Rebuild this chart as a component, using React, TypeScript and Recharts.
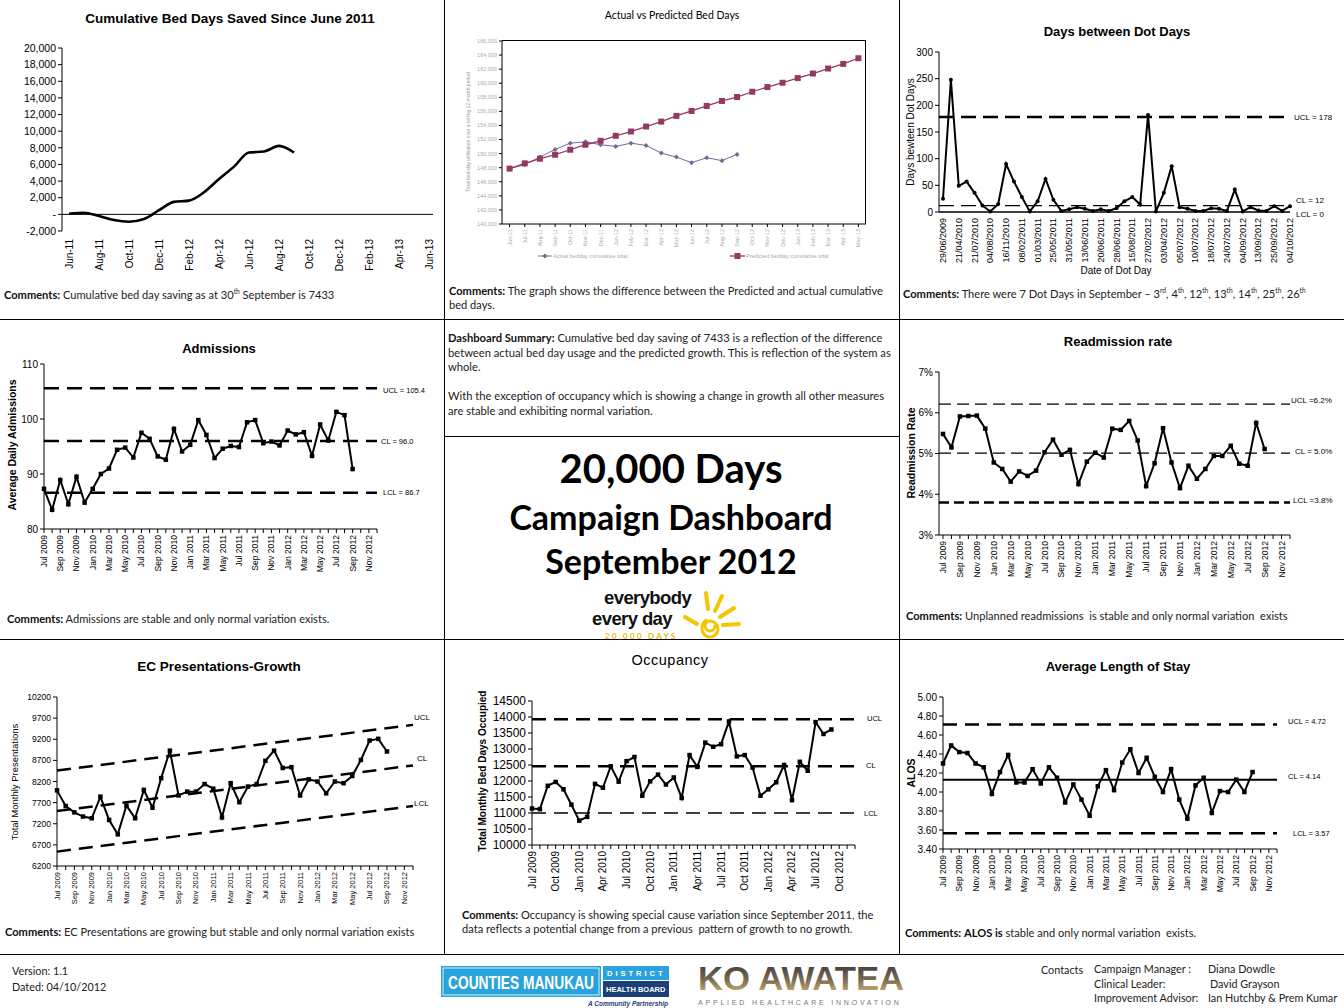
import React from "react";
import { LineChart, Line, XAxis, YAxis, ReferenceLine } from "recharts";

const AX = "'Liberation Sans', Arial, sans-serif";
const CAL = "Lato, 'Open Sans', sans-serif";

// ---- Cumulative bed days saved since June 2011
const CUM_MONTHS = [
  "Jun-11", "Jul-11", "Aug-11", "Sep-11", "Oct-11", "Nov-11", "Dec-11", "Jan-12", "Feb-12",
  "Mar-12", "Apr-12", "May-12", "Jun-12", "Jul-12", "Aug-12", "Sep-12", "Oct-12", "Nov-12",
  "Dec-12", "Jan-13", "Feb-13", "Mar-13", "Apr-13", "May-13", "Jun-13",
];
const CUM_SAVED = [80, 200, -200, -680, -880, -560, 500, 1500, 1650, 2650, 4250, 5740, 7430, 7550, 8230, 7433];
const CUM_TICKS = [-2000, 0, 2000, 4000, 6000, 8000, 10000, 12000, 14000, 16000, 18000, 20000];

// ---- Actual vs predicted bed days
const AVP_MONTHS = [
  "Jun-11", "Jul-11", "Aug-11", "Sep-11", "Oct-11", "Nov-11", "Dec-11", "Jan-12", "Feb-12",
  "Mar-12", "Apr-12", "May-12", "Jun-12", "Jul-12", "Aug-12", "Sep-12", "Oct-12", "Nov-12",
  "Dec-12", "Jan-13", "Feb-13", "Mar-13", "Apr-13", "May-13",
];
const AVP_ACTUAL = [
  147870, 148430, 149510, 150600, 151490, 151680, 151260, 151020, 151490, 151160, 150080,
  149510, 148710, 149420, 149000, 149890,
];
const AVP_PREDICTED = [
  147870, 148620, 149280, 149840, 150550, 151260, 151820, 152530, 153140, 153850, 154550,
  155360, 156060, 156770, 157480, 158040, 158790, 159450, 160070, 160730, 161380, 162090,
  162750, 163550,
];
const AVP_TICKS = [
  140000, 142000, 144000, 146000, 148000, 150000, 152000, 154000, 156000, 158000, 160000,
  162000, 164000, 166000,
];
const AVP_ACTUAL_NAME = "Actual bedday cumulative total";
const AVP_PRED_NAME = "Predicted bedday cumulative total";

// ---- Days between dot days
const DOT_DATES = [
  "29/06/2009", "21/04/2010", "21/07/2010", "04/08/2010", "16/11/2010", "08/02/2011",
  "01/03/2011", "25/05/2011", "31/05/2011", "13/06/2011", "20/06/2011", "28/06/2011",
  "15/08/2011", "27/02/2012", "03/04/2012", "05/07/2012", "10/07/2012", "18/07/2012",
  "24/07/2012", "04/09/2012", "13/09/2012", "25/09/2012", "04/10/2012",
];
const DOT_GAPS = [
  25, 248, 49, 57, 36, 12, 1, 15, 90, 57, 28, 1, 20, 62, 23, 2, 5, 9, 6, 2, 5, 2, 7, 20, 28,
  14, 182, 1, 36, 86, 9, 6, 2, 2, 7, 6, 2, 42, 1, 9, 3, 2, 11, 2, 11,
];
const DOT_TICKS = [0, 50, 100, 150, 200, 250, 300];

// ---- Monthly SPC charts (Jul 2009 - Dec 2012)
const MONTHS = [
  "Jul 2009", "Aug 2009", "Sep 2009", "Oct 2009", "Nov 2009", "Dec 2009",
  "Jan 2010", "Feb 2010", "Mar 2010", "Apr 2010", "May 2010", "Jun 2010",
  "Jul 2010", "Aug 2010", "Sep 2010", "Oct 2010", "Nov 2010", "Dec 2010",
  "Jan 2011", "Feb 2011", "Mar 2011", "Apr 2011", "May 2011", "Jun 2011",
  "Jul 2011", "Aug 2011", "Sep 2011", "Oct 2011", "Nov 2011", "Dec 2011",
  "Jan 2012", "Feb 2012", "Mar 2012", "Apr 2012", "May 2012", "Jun 2012",
  "Jul 2012", "Aug 2012", "Sep 2012", "Oct 2012", "Nov 2012", "Dec 2012",
];
const ADMISSIONS = [
  87.3, 83.5, 88.9, 84.5, 89.5, 84.8, 87.3, 90.0, 91.0, 94.4, 94.8, 93.0, 97.5, 96.4, 93.2,
  92.6, 98.2, 94.1, 95.3, 99.8, 97.1, 92.9, 94.6, 95.1, 94.9, 99.4, 99.8, 95.6, 95.9, 95.2,
  97.9, 97.2, 97.6, 93.3, 99.0, 96.1, 101.3, 100.7, 90.9,
];
const READMIT = [
  5.48, 5.15, 5.91, 5.92, 5.93, 5.61, 4.78, 4.62, 4.31, 4.56, 4.45, 4.58, 5.03, 5.34, 4.97,
  5.09, 4.25, 4.8, 5.02, 4.9, 5.61, 5.58, 5.8, 5.32, 4.2, 4.76, 5.62, 4.78, 4.15, 4.7, 4.38,
  4.62, 4.94, 4.94, 5.19, 4.75, 4.7, 5.75, 5.11,
];
const EC_PRES = [
  7990, 7620, 7470, 7370, 7330, 7840, 7290, 6950, 7630, 7330, 8000, 7580, 8280, 8930, 7870,
  7960, 7960, 8140, 8030, 7350, 8160, 7710, 8080, 8140, 8690, 8930, 8520, 8540, 7870, 8250,
  8200, 7920, 8200, 8160, 8330, 8710, 9170, 9210, 8910,
];
const OCCUPANCY = [
  11140, 11120, 11850, 11970, 11740, 11260, 10760, 10880, 11910, 11790, 12460, 11980, 12620,
  12750, 11540, 11990, 12200, 11890, 12110, 11470, 12810, 12440, 13200, 13070, 13150, 13860,
  12770, 12810, 12420, 11540, 11740, 11960, 12500, 11400, 12600, 12320, 13840, 13470, 13610,
];
const ALOS = [
  4.3, 4.49, 4.42, 4.41, 4.3, 4.26, 3.98, 4.21, 4.39, 4.1, 4.1, 4.24, 4.09, 4.26, 4.15, 3.89,
  4.08, 3.92, 3.75, 4.06, 4.23, 4.02, 4.31, 4.45, 4.2, 4.36, 4.16, 4.0, 4.24, 3.92, 3.72, 4.07,
  4.15, 3.78, 4.01, 4.0, 4.13, 4.0, 4.21,
];

const ADM_TICKS = [80, 90, 100, 110];
const READ_TICKS = [3, 4, 5, 6, 7];
const EC_TICKS = [6200, 6700, 7200, 7700, 8200, 8700, 9200, 9700, 10200];
const OCC_TICKS = [10000, 10500, 11000, 11500, 12000, 12500, 13000, 13500, 14000, 14500];
const ALOS_TICKS = [3.4, 3.6, 3.8, 4.0, 4.2, 4.4, 4.6, 4.8, 5.0];

type Lim = { y?: number; seg?: [number, number]; text: string; w: number; dash?: string; dx: number; dy: number };

const ADM_LIMITS: Lim[] = [
  { y: 105.6, text: "UCL = 105.4", w: 2.5, dash: "15 8", dx: 6, dy: 2 },
  { y: 96.0, text: "CL = 96.0", w: 2.5, dash: "15 8", dx: 4, dy: 0 },
  { y: 86.6, text: "LCL = 86.7", w: 2.5, dash: "15 8", dx: 6, dy: 0 },
];
const READ_LIMITS: Lim[] = [
  { y: 6.21, text: "UCL =6.2%", w: 1.2, dash: "12 6", dx: 1, dy: -4 },
  { y: 5.01, text: "CL = 5.0%", w: 1.2, dash: "12 6", dx: 5, dy: -2 },
  { y: 3.8, text: "LCL =3.8%", w: 2.5, dash: "10 5", dx: 3, dy: -2 },
];
const DOT_LIMITS: Lim[] = [
  { y: 178, text: "UCL = 178", w: 2.5, dash: "15 7", dx: 4, dy: 0 },
  { y: 12, text: "CL = 12", w: 1.2, dash: "15 7", dx: 6, dy: -5 },
  { y: 0, text: "LCL = 0", w: 1, dx: 6, dy: 2 },
];
const EC_LIMITS: Lim[] = [
  { seg: [8460, 9540], text: "UCL", w: 2.5, dash: "14 8", dx: 1, dy: -7 },
  { seg: [7500, 8580], text: "CL", w: 2.5, dash: "14 8", dx: 4, dy: -7 },
  { seg: [6540, 7620], text: "LCL", w: 2.5, dash: "14 8", dx: 1, dy: -3 },
];
const OCC_LIMITS: Lim[] = [
  { y: 13930, text: "UCL", w: 2.5, dash: "14 8", dx: 12, dy: -1 },
  { y: 12460, text: "CL", w: 2.5, dash: "14 8", dx: 11, dy: -1 },
  { y: 11000, text: "LCL", w: 1.5, dash: "14 8", dx: 9, dy: 0 },
];
const ALOS_LIMITS: Lim[] = [
  { y: 4.71, text: "UCL = 4.72", w: 2.5, dash: "14 8", dx: 11, dy: -3 },
  { y: 4.13, text: "CL = 4.14", w: 2, dx: 11, dy: -3 },
  { y: 3.565, text: "LCL = 3.57", w: 2.5, dash: "14 8", dx: 16, dy: 0 },
];

const monthRows = (vals: number[]) => MONTHS.map((m, i) => ({ m, v: i < vals.length ? vals[i] : null }));

function rotTick(o: { every?: number; size: number; fill?: string; fmt?: (v: any, i: number) => string; off?: number }) {
  return (p: any) => {
    const i = p.index ?? 0;
    const txt = o.fmt ? o.fmt(p.payload?.value, i) : String(p.payload?.value ?? "");
    if (i % (o.every ?? 1) !== 0 || !txt) return <g key={`t${i}`} />;
    return (
      <text
        key={`t${i}`}
        transform={`translate(${p.x},${p.y + (o.off ?? 0)}) rotate(-90)`}
        textAnchor="end"
        dominantBaseline="central"
        fontSize={o.size}
        fill={o.fill ?? "#000"}
        fontFamily={AX}
      >
        {txt}
      </text>
    );
  };
}

function limitLabel(text: string, dx: number, dy: number, size: number) {
  return (p: any) => {
    const vb = p.viewBox ?? p;
    return (
      <text x={(vb.x ?? 0) + (vb.width ?? 0) + dx} y={(vb.y ?? 0) + dy} fontSize={size} fontFamily={AX} fill="#000" dominantBaseline="central">
        {text}
      </text>
    );
  };
}

function squareDot(s: number, fill = "#000") {
  return (d: any) => {
    if (d == null || d.cx == null || d.cy == null || d.value == null) return <g key={`d${d?.index}`} />;
    return <rect key={`d${d.index}`} x={d.cx - s / 2} y={d.cy - s / 2} width={s} height={s} fill={fill} />;
  };
}
function diamondDot(s: number, fill: string) {
  return (d: any) => {
    if (d == null || d.cx == null || d.cy == null || d.value == null) return <g key={`d${d?.index}`} />;
    const h = s / 2;
    return <polygon key={`d${d.index}`} points={`${d.cx},${d.cy - h} ${d.cx + h},${d.cy} ${d.cx},${d.cy + h} ${d.cx - h},${d.cy}`} fill={fill} />;
  };
}
function roundDot(r: number) {
  return (d: any) => {
    if (d == null || d.cx == null || d.cy == null || d.value == null) return <g key={`d${d?.index}`} />;
    return <circle key={`d${d.index}`} cx={d.cx} cy={d.cy} r={r} fill="#000" />;
  };
}

type SpcProps = {
  left: number; top: number; W: number; H: number;
  x0: number; y0: number; x1: number; y1: number; xh: number;
  rows: any[]; domain: [number, number]; ticks: number[]; fmt?: (v: number) => string;
  yFont: number; xFont: number; every: number; xFmt?: (v: any, i: number) => string;
  padL?: number; padR?: number; limits: Lim[]; limFont: number;
  dot: (d: any) => React.ReactElement; lineW?: number; xTickLine?: boolean; off?: number;
};

function Spc(p: SpcProps) {
  const first = p.rows[0].m;
  const last = p.rows[p.rows.length - 1].m;
  return (
    <div style={{ position: "absolute", left: p.left, top: p.top }}>
      <LineChart width={p.W} height={p.H} data={p.rows} margin={{ top: p.y0, right: p.W - p.x1, bottom: p.H - p.y1 - p.xh, left: 0 }}>
        <XAxis
          dataKey="m"
          interval={0}
          height={p.xh}
          stroke="#000"
          tickSize={4}
          tickLine={p.xTickLine ?? true}
          padding={{ left: p.padL ?? 0, right: p.padR ?? 0 }}
          tick={rotTick({ every: p.every, size: p.xFont, fmt: p.xFmt, off: p.off ?? 0 })}
        />
        <YAxis
          width={p.x0}
          domain={p.domain}
          ticks={p.ticks}
          interval={0}
          stroke="#000"
          tickSize={4}
          tickFormatter={p.fmt}
          tick={{ fontSize: p.yFont, fill: "#000", fontFamily: AX }}
        />
        {p.limits.map((l, i) =>
          l.seg ? (
            <ReferenceLine
              key={i}
              segment={[{ x: first, y: l.seg[0] }, { x: last, y: l.seg[1] }]}
              stroke="#000"
              strokeWidth={l.w}
              strokeDasharray={l.dash}
              label={limitLabel(l.text, l.dx, l.dy, p.limFont)}
            />
          ) : (
            <ReferenceLine
              key={i}
              y={l.y}
              stroke="#000"
              strokeWidth={l.w}
              strokeDasharray={l.dash}
              label={limitLabel(l.text, l.dx, l.dy, p.limFont)}
            />
          )
        )}
        <Line dataKey="v" type="linear" stroke="#000" strokeWidth={p.lineW ?? 2} dot={p.dot} isAnimationActive={false} />
      </LineChart>
    </div>
  );
}

function Title(p: { cx: number; cy: number; size: number; bold?: boolean; family?: string; spacing?: number; children: React.ReactNode }) {
  return (
    <div
      style={{
        position: "absolute", left: p.cx - 250, top: p.cy - p.size * 0.6, width: 500, textAlign: "center",
        fontSize: p.size, lineHeight: `${p.size * 1.2}px`, fontWeight: p.bold === false ? 400 : 700,
        fontFamily: p.family ?? AX, letterSpacing: p.spacing ?? 0, whiteSpace: "nowrap", color: "#000",
      }}
    >
      {p.children}
    </div>
  );
}

function VText(p: { cx: number; cy: number; size: number; bold?: boolean; color?: string; children: React.ReactNode }) {
  return (
    <div
      style={{
        position: "absolute", left: p.cx, top: p.cy, transform: "translate(-50%,-50%) rotate(-90deg)",
        fontSize: p.size, fontWeight: p.bold ? 700 : 400, fontFamily: AX, whiteSpace: "nowrap", lineHeight: 1,
        color: p.color ?? "#000",
      }}
    >
      {p.children}
    </div>
  );
}

function Comment(p: { x: number; y: number; w: number; children: React.ReactNode }) {
  return (
    <div style={{ position: "absolute", left: p.x, top: p.y, width: p.w, fontSize: 11.1, lineHeight: "14px", fontFamily: CAL, color: "#222", whiteSpace: "nowrap" }}>
      <b style={{ color: "#111" }}>Comments:</b> {p.children}
    </div>
  );
}

const Sup = ({ children }: { children: React.ReactNode }) => (
  <sup style={{ fontSize: "0.6em", lineHeight: 0, verticalAlign: "super" }}>{children}</sup>
);

function Rule(p: { x: number; y: number; w: number; h: number }) {
  return <div style={{ position: "absolute", left: p.x, top: p.y, width: p.w, height: p.h, background: "#000" }} />;
}

function CumChart() {
  const rows = CUM_MONTHS.map((m, i) => ({ m, v: i < CUM_SAVED.length ? CUM_SAVED[i] : null }));
  return (
    <div style={{ position: "absolute", left: 0, top: 0 }}>
      <LineChart width={445} height={320} data={rows} margin={{ top: 48, right: 12, bottom: 49, left: 0 }}>
        <XAxis dataKey="m" interval={0} height={40} axisLine={false} tickLine={false} padding={{ left: 7, right: 4 }} tick={rotTick({ every: 2, size: 10 })} />
        <YAxis
          width={62}
          domain={[-2000, 20000]}
          ticks={CUM_TICKS}
          interval={0}
          stroke="#000"
          tickSize={4}
          tickFormatter={(v: number) => (v === 0 ? "-" : v.toLocaleString("en-US"))}
          tick={{ fontSize: 10.5, fill: "#000", fontFamily: AX }}
        />
        <ReferenceLine y={0} stroke="#000" strokeWidth={1} />
        <Line dataKey="v" type="monotone" stroke="#000" strokeWidth={2.6} dot={false} isAnimationActive={false} />
      </LineChart>
    </div>
  );
}

function AvpChart() {
  const rows = AVP_MONTHS.map((m, i) => ({
    m,
    a: i < AVP_ACTUAL.length ? AVP_ACTUAL[i] : null,
    p: AVP_PREDICTED[i],
  }));
  const gray = "#aaa";
  return (
    <div style={{ position: "absolute", left: 445, top: 0 }}>
      <LineChart width={455} height={320} data={rows} margin={{ top: 41, right: 34, bottom: 66, left: 0 }}>
        <XAxis dataKey="m" interval={0} height={30} stroke="#000" tickSize={3} padding={{ left: 7.6, right: 7.6 }} tick={rotTick({ size: 5.5, fill: gray })} />
        <YAxis
          width={57}
          domain={[140000, 166000]}
          ticks={AVP_TICKS}
          interval={0}
          stroke="#000"
          tickSize={3}
          tickFormatter={(v: number) => v.toLocaleString("en-US")}
          tick={{ fontSize: 5.5, fill: gray, fontFamily: AX }}
        />
        <Line dataKey="a" name={AVP_ACTUAL_NAME} type="linear" stroke="#6b6b96" strokeWidth={1} dot={diamondDot(5, "#6b6b96")} isAnimationActive={false} />
        <Line dataKey="p" name={AVP_PRED_NAME} type="linear" stroke="#953962" strokeWidth={1.3} dot={squareDot(6, "#953962")} isAnimationActive={false} />
      </LineChart>
      {/* plot-area frame */}
      <div style={{ position: "absolute", left: 57, top: 40, width: 364, height: 184, borderTop: "1.5px solid #000", borderRight: "1.5px solid #000", boxSizing: "border-box", pointerEvents: "none" }} />
      <svg width={455} height={16} style={{ position: "absolute", left: 0, top: 248 }}>
        <line x1={93} y1={8} x2={107} y2={8} stroke="#6b6b96" strokeWidth={1} />
        <polygon points="100,5.5 102.5,8 100,10.5 97.5,8" fill="#6b6b96" />
        <text x={108} y={8} fontSize={5.5} fill={gray} fontFamily={AX} dominantBaseline="central">{AVP_ACTUAL_NAME}</text>
        <line x1={285} y1={8} x2={300} y2={8} stroke="#953962" strokeWidth={1.3} />
        <rect x={289.5} y={5} width={6} height={6} fill="#953962" />
        <text x={301} y={8} fontSize={5.5} fill={gray} fontFamily={AX} dominantBaseline="central">{AVP_PRED_NAME}</text>
      </svg>
    </div>
  );
}

function EverybodyLogo() {
  return (
    <svg width={165} height={58} style={{ position: "absolute", left: 585, top: 586 }}>
      <text x={19} y={18} fontFamily={AX} fontWeight={700} fontSize={18.5} letterSpacing={-0.6} fill="#111">everybody</text>
      <text x={7} y={39} fontFamily={AX} fontWeight={700} fontSize={18.5} letterSpacing={-0.6} fill="#111">every day</text>
      <g stroke="#f6c500" strokeLinecap="round" fill="none">
        <path d="M130 40 a5 5 0 1 1 -5 -5 a8 8 0 1 1 -8 8 a11 11 0 0 1 4 -9" strokeWidth={3} />
        <line x1={123} y1={23} x2={121} y2={7} strokeWidth={4} />
        <line x1={130} y1={25} x2={137} y2={10} strokeWidth={4} />
        <line x1={135} y1={31} x2={149} y2={22} strokeWidth={4} />
        <line x1={138} y1={39} x2={154} y2={38} strokeWidth={4} />
        <line x1={112} y1={38} x2={100} y2={31} strokeWidth={4} />
      </g>
      <text x={20} y={53} fontFamily="Lato" fontWeight={700} fontSize={8} letterSpacing={2.3} fill="#f0b800">20,000 DAYS</text>
    </svg>
  );
}

function FooterLogos() {
  return (
    <>
      <svg width={232} height={44} style={{ position: "absolute", left: 440, top: 964 }}>
        <rect x={1} y={2} width={160} height={31} fill="#2aa3dc" />
        <rect x={3} y={4} width={156} height={27} fill="none" stroke="#fff" strokeWidth={0.8} />
        <g transform="translate(8,25) scale(0.765,1)">
          <text x={0} y={0} fontSize={18} fontWeight={700} fill="#fff" fontFamily={AX}>COUNTIES MANUKAU</text>
        </g>
        <rect x={163} y={2} width={66} height={14} fill="#2aa3dc" />
        <text x={167} y={12} fontSize={7.5} fontWeight={700} fill="#fff" fontFamily={AX} letterSpacing={3}>DISTRICT</text>
        <rect x={163} y={17} width={66} height={16} fill="#1c3f78" />
        <text x={166} y={28} fontSize={7.5} fontWeight={700} fill="#fff" fontFamily={AX}>HEALTH BOARD</text>
        <text x={228} y={42} fontSize={6.5} fontWeight={700} fontStyle="italic" fill="#1c3f78" fontFamily={AX} textAnchor="end">A Community Partnership</text>
      </svg>
      <svg width={210} height={50} style={{ position: "absolute", left: 696, top: 958 }}>
        <defs>
          <linearGradient id="kog" x1="0" y1="0" x2="0" y2="1">
            <stop offset="0" stopColor="#2e2e2e" />
            <stop offset="0.55" stopColor="#7a6c55" />
            <stop offset="1" stopColor="#e9c070" />
          </linearGradient>
        </defs>
        <g transform="translate(2,32) scale(1.02,1)">
          <text x={0} y={0} fontSize={34} fontWeight={700} fill="url(#kog)" fontFamily={AX}>KO AWATEA</text>
        </g>
        <text x={2} y={46.5} fontSize={7} fill="#777" fontFamily={AX} letterSpacing={2.8}>APPLIED HEALTHCARE INNOVATION</text>
      </svg>
    </>
  );
}

function Small(p: { x: number; cy: number; children: React.ReactNode }) {
  return (
    <div style={{ position: "absolute", left: p.x, top: p.cy - 7, fontSize: 10.8, lineHeight: "14px", fontFamily: CAL, color: "#222", whiteSpace: "nowrap" }}>
      {p.children}
    </div>
  );
}

export default function App() {
  const sqDot = squareDot(4.5);
  return (
    <div style={{ position: "relative", width: 1344, height: 1008, background: "#fff", overflow: "hidden", fontFamily: CAL }}>
      <style>{"body{margin:0}"}</style>

      {/* frame */}
      <Rule x={444} y={0} w={1} h={955} />
      <Rule x={899} y={0} w={1} h={955} />
      <Rule x={0} y={319} w={1344} h={1} />
      <Rule x={0} y={639} w={1344} h={1} />
      <Rule x={0} y={954} w={1344} h={1} />
      <Rule x={445} y={436} w={455} h={1} />

      {/* Cumulative bed days */}
      <Title cx={230} cy={19} size={13.5}>Cumulative Bed Days Saved Since June 2011</Title>
      <CumChart />
      <Comment x={4} y={288} w={436}>
        Cumulative bed day saving as at 30<Sup>th</Sup> September is 7433
      </Comment>

      {/* Actual vs predicted */}
      <Title cx={672} cy={15} size={10.5} bold={false} family={CAL}>Actual vs Predicted Bed Days</Title>
      <AvpChart />
      <VText cx={468} cy={132} size={5} color="#999">Total bed day utilisation over a rolling 12 month period</VText>
      <Comment x={449} y={284} w={448}>
        The graph shows the difference between the Predicted and actual cumulative
        <br />
        bed days.
      </Comment>

      {/* Dot days */}
      <Title cx={1117} cy={32} size={13}>Days between Dot Days</Title>
      <Spc
        left={900} top={0} W={444} H={320} x0={39} y0={52} x1={390} y1={212} xh={50}
        rows={DOT_GAPS.map((v, i) => ({ m: i, v }))}
        domain={[0, 300]} ticks={DOT_TICKS} yFont={10} xFont={9} every={2}
        xFmt={(v: number) => (v % 2 === 0 ? DOT_DATES[v / 2] : "")}
        padL={4} limits={DOT_LIMITS} limFont={8} dot={roundDot(2)} xTickLine={false}
      />
      <VText cx={911} cy={132} size={10}>Days bewteen Dot Days</VText>
      <Title cx={1116} cy={271} size={10} bold={false}>Date of Dot Day</Title>
      <Comment x={903} y={287} w={440}>
        There were 7 Dot Days in September – 3<Sup>rd</Sup>, 4<Sup>th</Sup>, 12<Sup>th</Sup>, 13<Sup>th</Sup>, 14<Sup>th</Sup>, 25<Sup>th</Sup>, 26<Sup>th</Sup>
      </Comment>

      {/* Admissions */}
      <Title cx={219} cy={349} size={13}>Admissions</Title>
      <Spc
        left={0} top={320} W={445} H={320} x0={44} y0={44} x1={377} y1={209} xh={48}
        rows={monthRows(ADMISSIONS)} domain={[80, 110]} ticks={ADM_TICKS} yFont={10} xFont={8.5} every={2}
        limits={ADM_LIMITS} limFont={7.5} dot={sqDot}
      />
      <VText cx={12} cy={445} size={10.5} bold>Average Daily Admissions</VText>
      <Comment x={7} y={612} w={436}>Admissions are stable and only normal variation exists.</Comment>

      {/* Dashboard summary + title */}
      <div style={{ position: "absolute", left: 448, top: 331, fontSize: 11.2, lineHeight: "14.5px", fontFamily: CAL, color: "#222", whiteSpace: "nowrap" }}>
        <b style={{ color: "#111" }}>Dashboard Summary:</b> Cumulative bed day saving of 7433 is a reflection of the difference
        <br />
        between actual bed day usage and the predicted growth. This is reflection of the system as
        <br />
        whole.
        <br />
        <br />
        With the exception of occupancy which is showing a change in growth all other measures
        <br />
        are stable and exhibiting normal variation.
      </div>
      <Title cx={671} cy={468} size={40} family={CAL}>20,000 Days</Title>
      <Title cx={671} cy={517} size={34} family={CAL}>Campaign Dashboard</Title>
      <Title cx={671} cy={561} size={34} family={CAL}>September 2012</Title>
      <EverybodyLogo />

      {/* Readmission */}
      <Title cx={1118} cy={342} size={13}>Readmission rate</Title>
      <Spc
        left={900} top={320} W={444} H={320} x0={39} y0={52} x1={390} y1={215} xh={48}
        rows={monthRows(READMIT)} domain={[3, 7]} ticks={READ_TICKS} fmt={(v: number) => `${v}%`}
        yFont={10} xFont={8.5} every={2} padL={4} limits={READ_LIMITS} limFont={8} dot={sqDot}
      />
      <VText cx={911} cy={453} size={10.5} bold>Readmission Rate</VText>
      <Comment x={906} y={609} w={436}>Unplanned readmissions&nbsp; is stable and only normal variation&nbsp; exists</Comment>

      {/* EC presentations */}
      <Title cx={219} cy={667} size={13.5}>EC Presentations-Growth</Title>
      <Spc
        left={0} top={640} W={445} H={315} x0={57} y0={57} x1={413} y1={226} xh={45}
        rows={monthRows(EC_PRES)} domain={[6200, 10200]} ticks={EC_TICKS} yFont={8.5} xFont={7.5} every={2}
        limits={EC_LIMITS} limFont={8} dot={sqDot}
      />
      <VText cx={15} cy={782} size={9.5}>Total Monthly Presentations</VText>
      <Comment x={5} y={925} w={438}>EC Presentations are growing but stable and only normal variation exists</Comment>

      {/* Occupancy */}
      <Title cx={670} cy={661} size={14.5} bold={false} spacing={0.5}>Occupancy</Title>
      <Spc
        left={445} top={640} W={455} H={315} x0={87} y0={61} x1={410} y1={205} xh={55}
        rows={monthRows(OCCUPANCY)} domain={[10000, 14500]} ticks={OCC_TICKS} yFont={12} xFont={10} every={3}
        limits={OCC_LIMITS} limFont={7.5} dot={sqDot}
      />
      <VText cx={483} cy={771} size={10} bold>Total Monthly Bed Days Occupied</VText>
      <Comment x={462} y={908} w={436}>
        Occupancy is showing special cause variation since September 2011, the
        <br />
        data reflects a potential change from a previous&nbsp; pattern of growth to no growth.
      </Comment>

      {/* ALOS */}
      <Title cx={1118} cy={667} size={13}>Average Length of Stay</Title>
      <Spc
        left={900} top={640} W={444} H={315} x0={43} y0={57} x1={377} y1={209} xh={48}
        rows={monthRows(ALOS)} domain={[3.4, 5.0]} ticks={ALOS_TICKS} fmt={(v: number) => v.toFixed(2)}
        yFont={10} xFont={8.5} every={2} limits={ALOS_LIMITS} limFont={7.5} dot={sqDot}
      />
      <VText cx={911} cy={773} size={10.5} bold>ALOS</VText>
      <Comment x={905} y={926} w={436}>
        <b style={{ color: "#111" }}>ALOS is</b> stable and only normal variation&nbsp; exists.
      </Comment>

      {/* footer */}
      <Small x={12} cy={971}>Version: 1.1</Small>
      <Small x={12} cy={987}>Dated: 04/10/2012</Small>
      <FooterLogos />
      <Small x={1041} cy={970}>Contacts</Small>
      <Small x={1094} cy={969}>Campaign Manager :</Small>
      <Small x={1208} cy={969}>Diana Dowdle</Small>
      <Small x={1094} cy={984}>Clinical Leader:</Small>
      <Small x={1210} cy={984}>David Grayson</Small>
      <Small x={1094} cy={998}>Improvement Advisor:</Small>
      <Small x={1208} cy={998}>Ian Hutchby &amp; Prem Kumar</Small>
    </div>
  );
}
